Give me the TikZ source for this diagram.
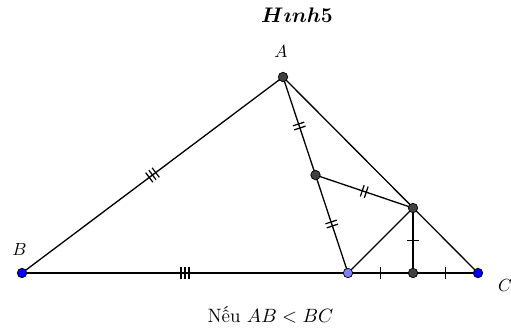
\documentclass[tikz,border=0pt]{standalone}
\usepackage{fontspec}
\usepackage{amsmath,bm}
\usetikzlibrary{decorations.markings}
\definecolor{ptgray}{HTML}{404040}
\definecolor{ptblue}{HTML}{0000FF}
\definecolor{ptlight}{HTML}{7F7FFF}
\tikzset{
  dot/.style={circle, draw=black, line width=0.4pt, inner sep=0pt, minimum size=5.4pt},
  tickone/.style={postaction={decorate, decoration={markings,
      mark=at position 0.5 with {\draw[line width=0.7pt] (0,-3.4pt) -- (0,3.4pt);}}}},
  ticktwo/.style={postaction={decorate, decoration={markings,
      mark=at position 0.5 with {\draw[line width=0.7pt] (-1.2pt,-3.4pt) -- (-1.2pt,3.4pt) (1.2pt,-3.4pt) -- (1.2pt,3.4pt);}}}},
  tickthree/.style={postaction={decorate, decoration={markings,
      mark=at position 0.5 with {\draw[line width=0.7pt] (-2.3pt,-3.4pt) -- (-2.3pt,3.4pt) (0,-3.4pt) -- (0,3.4pt) (2.3pt,-3.4pt) -- (2.3pt,3.4pt);}}}}
}
\begin{document}
\begin{tikzpicture}[x=0.02cm, y=-0.02cm, line width=0.75pt]
    \useasboundingbox (0,0) rectangle (511,332);
    % points
    \coordinate (A) at (283,77);
    \coordinate (B) at (22,273);
    \coordinate (C) at (478,273);
    \coordinate (D) at (348,273);
    \coordinate (E) at (315.5,175);
    \coordinate (F) at (413,208);
    \coordinate (G) at (413,273);

    % sides and segments
    \draw[tickthree] (B) -- (A);
    \draw (A) -- (C);
    \draw[tickthree] (B) -- (D);
    \draw[tickone] (D) -- (G);
    \draw[tickone] (G) -- (C);
    \draw[ticktwo] (A) -- (E);
    \draw[ticktwo] (E) -- (D);
    \draw[ticktwo] (E) -- (F);
    \draw (D) -- (F);
    \draw[tickone] (F) -- (G);

    % dots
    \node[dot, fill=ptgray] (a) at (A) {};
    \node[dot, fill=ptblue] (b) at (B) {};
    \node[dot, fill=ptblue] (c) at (C) {};
    \node[dot, fill=ptlight] (d) at (D) {};
    \node[dot, fill=ptgray] (e) at (E) {};
    \node[dot, fill=ptgray] (f) at (F) {};
    \node[dot, fill=ptgray] (g) at (G) {};

    % labels
    \node (la) at (281,51) {$A$};
    \node (lb) at (19.5,249) {$B$};
    \node (lc) at (505,285) {$C$};
    \node (title) at (297,15) {\large$\bm{H\imath nh5}$};
    \node[anchor=base west, font=\fontsize{11pt}{13pt}\selectfont] (cond) at (201,322) {Nếu $AB<BC$};
\end{tikzpicture}
\end{document}
